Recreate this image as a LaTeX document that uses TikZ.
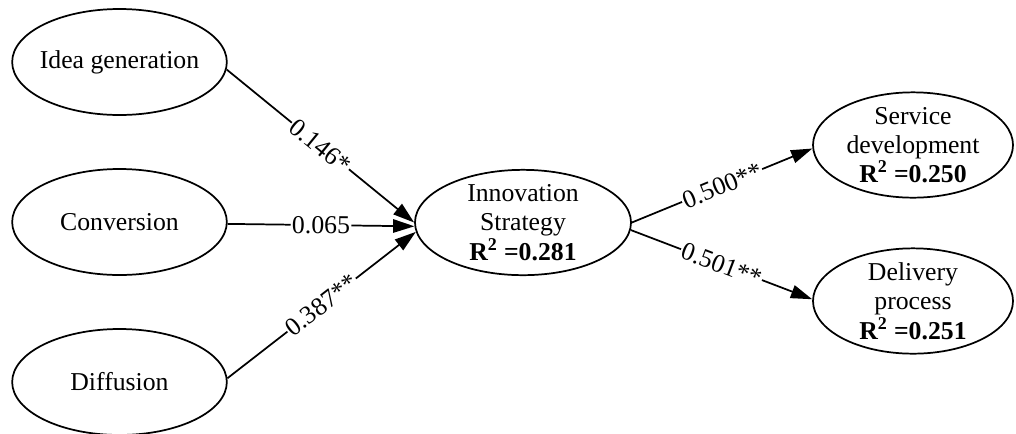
\documentclass[tikz,border=0pt]{standalone}
\usepackage{fontspec}
\setmainfont{Liberation Serif}
\usetikzlibrary{shapes,arrows.meta,positioning}
\tikzset{
  construct/.style={draw, ellipse, line width=1.3pt, inner xsep=-3pt, inner ysep=-8pt,
    minimum width=161pt, minimum height=79.5pt, align=center,
    font=\fontsize{19.3}{22}\selectfont},
  link/.style={line width=1.3pt, -{Triangle[length=16pt,width=10pt]}},
  coef/.style={fill=white, sloped, inner sep=1pt, font=\fontsize{19.3}{22}\selectfont}
}
\begin{document}
\begin{tikzpicture}[x=0.75pt, y=-0.75pt]
 \useasboundingbox (0,0) rectangle (1016,433);

 %predictors
 \foreach \i/\name/\txt in {0/idea/Idea generation, 1/conv/Conversion, 2/diff/Diffusion} {
   \node[construct] (\name) at (119.5, 62+\i*160) {\txt};
 }

 %mediator
 \node[construct, minimum width=162pt, minimum height=79pt] (is) at (523,222.5)
   {Innovation\\Strategy\\\textbf{R\textsuperscript{2} =0.281}};

 %outcomes
 \node[construct, minimum width=150pt, minimum height=79pt] (sd) at (913,145)
   {Service\\development\\\textbf{R\textsuperscript{2} =0.250}};
 \node[construct, minimum width=150pt, minimum height=79pt] (dp) at (913,301)
   {Delivery\\process\\\textbf{R\textsuperscript{2} =0.251}};

 %paths
 \draw[link] (idea.-4) -- node[coef] {0.146*} (is.180);
 \draw[link] (conv.-1) -- node[coef] {0.065} (is.182);
 \draw[link] (diff.2) -- node[coef] {0.387**} (is.185);
 \draw[link] (is.0) -- node[coef] {0.500**} (sd.182);
 \draw[link] (is.-4) -- node[coef] {0.501**} (dp.179);
\end{tikzpicture}
\end{document}
